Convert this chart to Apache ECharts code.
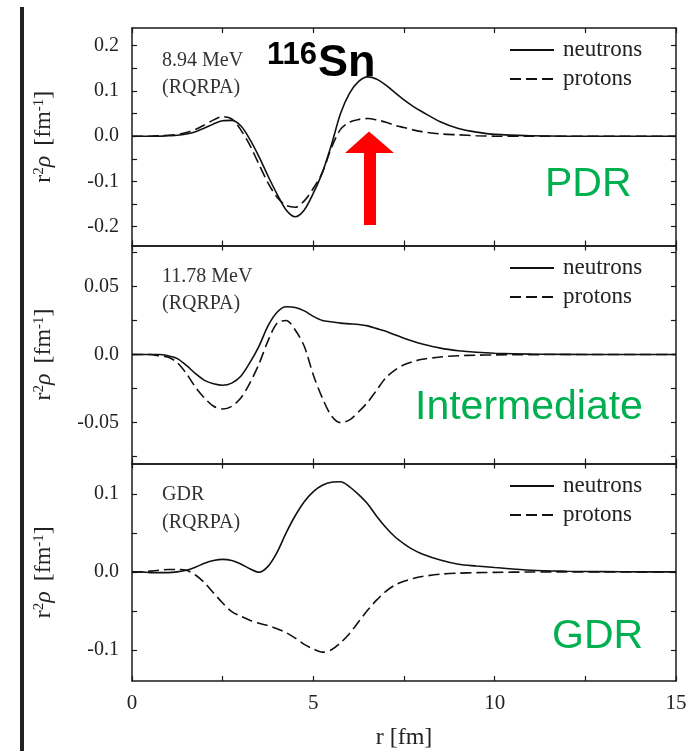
<!DOCTYPE html>
<html>
<head>
<meta charset="utf-8">
<script src="https://cdn.jsdelivr.net/npm/echarts@6/dist/echarts.min.js"></script>
<style>
  html, body { margin: 0; padding: 0; background: #fff; }
  #main { width: 696px; height: 751px; }
</style>
</head>
<body>
<div id="main"></div>
<script>
// r grid (fm) shared by all three panels
var rVals = [0, 0.25, 0.5, 0.75, 1, 1.25, 1.5, 1.75, 2, 2.25, 2.5, 2.75, 3, 3.25, 3.5, 3.75,
  4, 4.25, 4.5, 4.75, 5, 5.25, 5.5, 5.75, 6, 6.25, 6.5, 6.75, 7, 7.25, 7.5, 7.75, 8,
  8.5, 9, 9.5, 10, 11, 12, 13, 14, 15];

// PDR, 8.94 MeV
var pdrNeutrons = [0, 0, 0, 0, 0.001, 0.002, 0.005, 0.010, 0.018, 0.027, 0.034, 0.035,
  0.023, -0.007, -0.045, -0.088, -0.128, -0.163, -0.178, -0.163, -0.126, -0.080, -0.019, 0.050,
  0.095, 0.121, 0.131, 0.126, 0.113, 0.096, 0.080, 0.066, 0.054,
  0.032, 0.017, 0.009, 0.004, 0.001, 0, 0, 0, 0];
var pdrProtons = [0, 0, 0, 0.001, 0.002, 0.004, 0.008, 0.015, 0.025, 0.036, 0.043, 0.038,
  0.014, -0.020, -0.062, -0.103, -0.135, -0.153, -0.157, -0.143, -0.115, -0.080, -0.025, 0.015,
  0.031, 0.037, 0.039, 0.036, 0.031, 0.024, 0.019, 0.014, 0.010,
  0.005, 0.003, 0.001, 0, 0, 0, 0, 0, 0];

// intermediate, 11.78 MeV
var midNeutrons = [0, 0, 0, 0, -0.001, -0.003, -0.008, -0.014, -0.019, -0.0215, -0.0226, -0.021,
  -0.016, -0.006, 0.006, 0.021, 0.031, 0.035, 0.0345, 0.032, 0.028, 0.025, 0.024, 0.023,
  0.0225, 0.022, 0.021, 0.019, 0.017, 0.0145, 0.012, 0.0097, 0.0077,
  0.0047, 0.0028, 0.0016, 0.0009, 0.0003, 0.0001, 0, 0, 0];
var midProtons = [0, 0, 0, -0.001, -0.002, -0.006, -0.014, -0.024, -0.032, -0.038, -0.040, -0.038,
  -0.032, -0.021, -0.007, 0.010, 0.023, 0.025, 0.018, 0.006, -0.015, -0.032, -0.045, -0.050,
  -0.048, -0.042, -0.035, -0.026, -0.017, -0.0115, -0.0075, -0.0052, -0.0035,
  -0.0018, -0.0009, -0.0005, -0.0003, -0.0001, 0, 0, 0, 0];

// GDR
var gdrNeutrons = [0, 0, -0.001, -0.001, -0.001, 0, 0.002, 0.006, 0.011, 0.0145, 0.016, 0.0145,
  0.010, 0.004, -0.0005, 0.007, 0.025, 0.050, 0.072, 0.090, 0.103, 0.111, 0.115, 0.1155,
  0.109, 0.099, 0.087, 0.071, 0.057, 0.045, 0.036, 0.0285, 0.023,
  0.0152, 0.0098, 0.0075, 0.0055, 0.002, 0.0008, 0.0003, 0, 0];
var gdrProtons = [0, 0, 0.001, 0.002, 0.003, 0.003, 0.002, -0.004, -0.014, -0.027, -0.040, -0.051,
  -0.057, -0.062, -0.066, -0.069, -0.073, -0.078, -0.085, -0.093, -0.099, -0.103, -0.100, -0.091,
  -0.079, -0.064, -0.049, -0.036, -0.025, -0.017, -0.012, -0.0085, -0.006,
  -0.003, -0.0017, -0.001, -0.0006, -0.0002, 0, 0, 0, 0];

// ticks
var xTicks = [0, 2.5, 5, 7.5, 10, 12.5, 15];
var xLabels = [0, 5, 10, 15];
var yTicksTop = [-0.2, -0.15, -0.1, -0.05, 0, 0.05, 0.1, 0.15, 0.2];
var yLabelsTop = [-0.2, -0.1, 0, 0.1, 0.2];
var yTicksMid = [-0.075, -0.05, -0.025, 0, 0.025, 0.05, 0.075];
var yLabelsMid = [-0.05, 0, 0.05];
var yTicksBot = [-0.1, -0.05, 0, 0.05, 0.1];
var yLabelsBot = [-0.1, 0, 0.1];

var myChart = echarts.init(document.getElementById('main'));

var ink = '#1a1a1a';
var serif = 'Liberation Serif';
var axLine = { show: true, onZero: false, lineStyle: { color: ink, width: 1.5 } };

function pairs(ys) {
  return rVals.map(function (r, i) { return [r, ys[i]]; });
}

function fmtY(v, digits) {
  if (Math.abs(v) < 1e-9) return '0.0';
  return v.toFixed(digits);
}

function xAx(gi, pos, labels) {
  return {
    type: 'value', gridIndex: gi, position: pos, min: 0, max: 15,
    axisLine: axLine,
    axisTick: { show: true, inside: true, length: 5, customValues: xTicks, lineStyle: { color: ink, width: 1.2 } },
    axisLabel: { show: labels, customValues: xLabels, margin: 12, fontFamily: serif, fontSize: 21, color: '#222' },
    splitLine: { show: false },
    name: labels ? 'r [fm]' : '', nameLocation: 'middle', nameGap: 45,
    nameTextStyle: { fontFamily: serif, fontSize: 24, color: '#222' }
  };
}

function yAx(gi, pos, mn, mx, ticks, labels, digits) {
  var left = pos === 'left';
  return {
    type: 'value', gridIndex: gi, position: pos, min: mn, max: mx,
    axisLine: axLine,
    axisTick: { show: true, inside: true, length: 5, customValues: ticks, lineStyle: { color: ink, width: 1.2 } },
    axisLabel: {
      show: left, customValues: labels, margin: 13, fontFamily: serif, fontSize: 20, color: '#222',
      formatter: function (v) { return fmtY(v, digits); }
    },
    splitLine: { show: false },
    name: left ? '{t|r}{s|2}{g|\u03c1}   {t|[fm}{s|-1}{t|]}' : '',
    nameLocation: 'middle', nameGap: 76, nameRotate: 90,
    nameTextStyle: {
      rich: {
        t: { fontFamily: serif, fontSize: 24, color: '#222' },
        g: { fontFamily: serif, fontSize: 24, fontStyle: 'italic', color: '#222' },
        s: { fontFamily: serif, fontSize: 15, color: '#222', verticalAlign: 'top' }
      }
    }
  };
}

function line(name, gi, ys, dashed) {
  return {
    name: name, type: 'line', xAxisIndex: gi * 2, yAxisIndex: gi * 2,
    data: pairs(ys), smooth: 0.3, symbol: 'none',
    lineStyle: { color: '#111', width: 1.6, type: dashed ? [11, 5] : 'solid' },
    itemStyle: { color: '#111' }
  };
}

function legendAt(top) {
  return {
    orient: 'vertical', left: 504, top: top, itemWidth: 44, itemHeight: 12, itemGap: 5,
    selectedMode: false, data: ['neutrons', 'protons'],
    itemStyle: { opacity: 0 },
    textStyle: { fontFamily: serif, fontSize: 23, color: '#222', padding: [0, 0, 0, 4], lineHeight: 24 }
  };
}

function label(x, y, s, size, weight, family, color) {
  return {
    type: 'text', x: x, y: y, z: 100,
    style: { text: s, fontSize: size, fontWeight: weight, fontFamily: family, fill: color, verticalAlign: 'middle', align: 'left' }
  };
}

var option = {
  animation: false,
  backgroundColor: '#fff',
  grid: [
    { left: 132, right: 20, top: 28, height: 217.5 },
    { left: 132, right: 20, top: 245.5, height: 218 },
    { left: 132, right: 20, top: 463.5, height: 217.5 }
  ],
  xAxis: [
    xAx(0, 'bottom', false), xAx(0, 'top', false),
    xAx(1, 'bottom', false), xAx(1, 'top', false),
    xAx(2, 'bottom', true), xAx(2, 'top', false)
  ],
  yAxis: [
    yAx(0, 'left', -0.2415, 0.239, yTicksTop, yLabelsTop, 1), yAx(0, 'right', -0.2415, 0.239, yTicksTop, [], 1),
    yAx(1, 'left', -0.08, 0.08, yTicksMid, yLabelsMid, 2), yAx(1, 'right', -0.08, 0.08, yTicksMid, [], 2),
    yAx(2, 'left', -0.14, 0.139, yTicksBot, yLabelsBot, 1), yAx(2, 'right', -0.14, 0.139, yTicksBot, [], 1)
  ],
  legend: [legendAt(33), legendAt(251), legendAt(469)],
  series: [
    line('neutrons', 0, pdrNeutrons, false), line('protons', 0, pdrProtons, true),
    line('neutrons', 1, midNeutrons, false), line('protons', 1, midProtons, true),
    line('neutrons', 2, gdrNeutrons, false), line('protons', 2, gdrProtons, true)
  ],
  graphic: [
    // dark bar on the left edge
    { type: 'rect', shape: { x: 20, y: 7, width: 4, height: 744 }, style: { fill: '#222' }, z: 100 },
    // panel notes
    label(162, 61, '8.94 MeV', 20, 'normal', serif, '#333'),
    label(162, 88, '(RQRPA)', 20, 'normal', serif, '#333'),
    label(162, 277, '11.78 MeV', 20, 'normal', serif, '#333'),
    label(162, 304, '(RQRPA)', 20, 'normal', serif, '#333'),
    label(162, 495, 'GDR', 20, 'normal', serif, '#333'),
    label(162, 523, '(RQRPA)', 20, 'normal', serif, '#333'),
    // nucleus
    label(267, 55, '116', 31, 'bold', 'Liberation Sans', '#000'),
    label(318, 64, 'Sn', 45, 'bold', 'Liberation Sans', '#000'),
    // red arrow
    { type: 'polygon', z: 100,
      shape: { points: [[369, 131.5], [394, 153], [376, 153], [376, 225], [364, 225], [364, 153], [345, 153]] },
      style: { fill: '#ff0000' } },
    // green panel names
    label(545, 185, 'PDR', 41, 'normal', 'Liberation Sans', '#00b050'),
    label(415, 408, 'Intermediate', 41, 'normal', 'Liberation Sans', '#00b050'),
    label(552, 637, 'GDR', 41, 'normal', 'Liberation Sans', '#00b050')
  ]
};

myChart.setOption(option);
window.addEventListener('resize', function () { myChart.resize(); });
</script>
</body>
</html>
